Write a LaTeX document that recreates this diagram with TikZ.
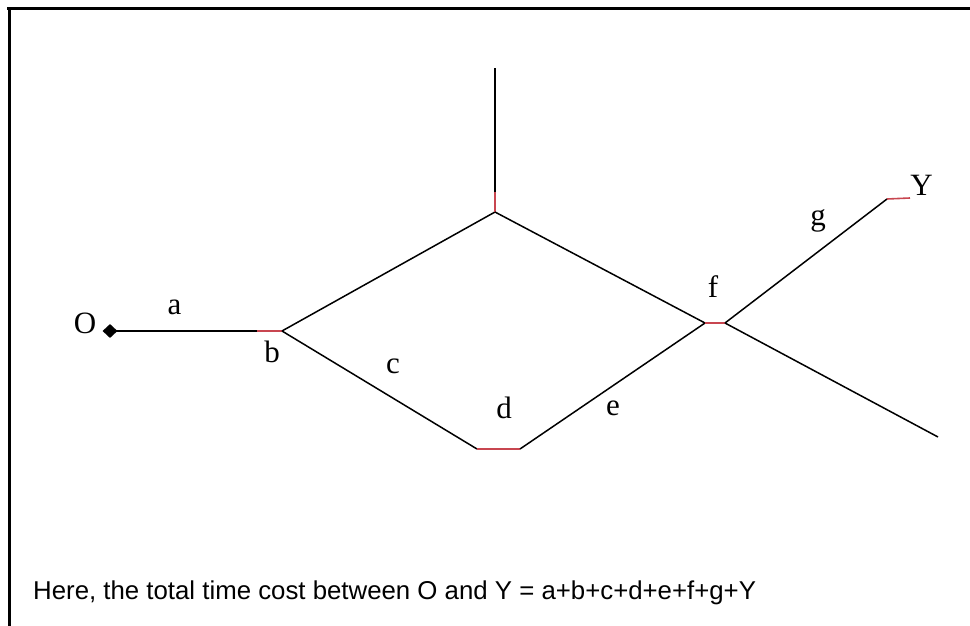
\documentclass[tikz,border=0pt]{standalone}
\usepackage{fontspec}
\setmainfont{Liberation Serif}
\newfontfamily\arialfont{Liberation Sans}
\usetikzlibrary{shapes.geometric}
\definecolor{seg}{RGB}{200,70,80}
\begin{document}
\begin{tikzpicture}[x=1pt,y=-1pt,
  edge/.style={line width=1.5pt,black},
  redseg/.style={line width=1.6pt,seg},
  lbl/.style={font=\fontsize{31}{33}\selectfont,anchor=base,inner sep=0pt},
  frame/.style={line width=3pt,black}]
\useasboundingbox (0,0) rectangle (970,626);
% frame
\draw[frame] (7,9) -- (970,9);
\draw[frame] (9,7.5) -- (9,626);
% points
\coordinate (O) at (110,331);
\coordinate (aend) at (257,331);
\coordinate (b) at (282,331);
\coordinate (top) at (495,212);
\coordinate (topred) at (495,192);
\coordinate (topend) at (495,68);
\coordinate (dl) at (477,449);
\coordinate (dr) at (520,449);
\coordinate (fl) at (705,323);
\coordinate (fr) at (725,323);
\coordinate (gend) at (887,199);
\coordinate (Yend) at (910,198);
\coordinate (lr) at (938,437);
% edges
\draw[edge] (O) -- (aend);
\draw[redseg] (aend) -- (b);
\draw[edge] (b) -- (top);
\draw[redseg] (top) -- (topred);
\draw[edge] (topred) -- (topend);
\draw[edge] (top) -- (fl);
\draw[edge] (b) -- (dl);
\draw[redseg] (dl) -- (dr);
\draw[edge] (dr) -- (fl);
\draw[redseg] (fl) -- (fr);
\draw[edge] (fr) -- (gend);
\draw[redseg] (gend) -- (Yend);
\draw[edge] (fr) -- (lr);
% diamond at O
\node[diamond,fill=black,inner sep=0pt,minimum width=15pt,minimum height=14pt] (Odot) at (O) {};
% labels
\node[lbl] (Ol) at (85,333) {O};
\node[lbl] (al) at (174.5,314) {a};
\node[lbl] (bl) at (272,362) {b};
\node[lbl] (cl) at (393,373) {c};
\node[lbl] (dl2) at (504,418) {d};
\node[lbl] (el) at (613,415) {e};
\node[lbl] (fl2) at (713,297) {f};
\node[lbl] (gl) at (818,225) {g};
\node[lbl] (Yl) at (921.5,195) {Y};
% caption
\node[anchor=base west,inner sep=0pt,font=\arialfont\fontsize{25.8}{30}\selectfont] (cap) at (33,599) {Here, the total time cost between O and Y = a+b+c+d+e+f+g+Y};
\end{tikzpicture}
\end{document}
